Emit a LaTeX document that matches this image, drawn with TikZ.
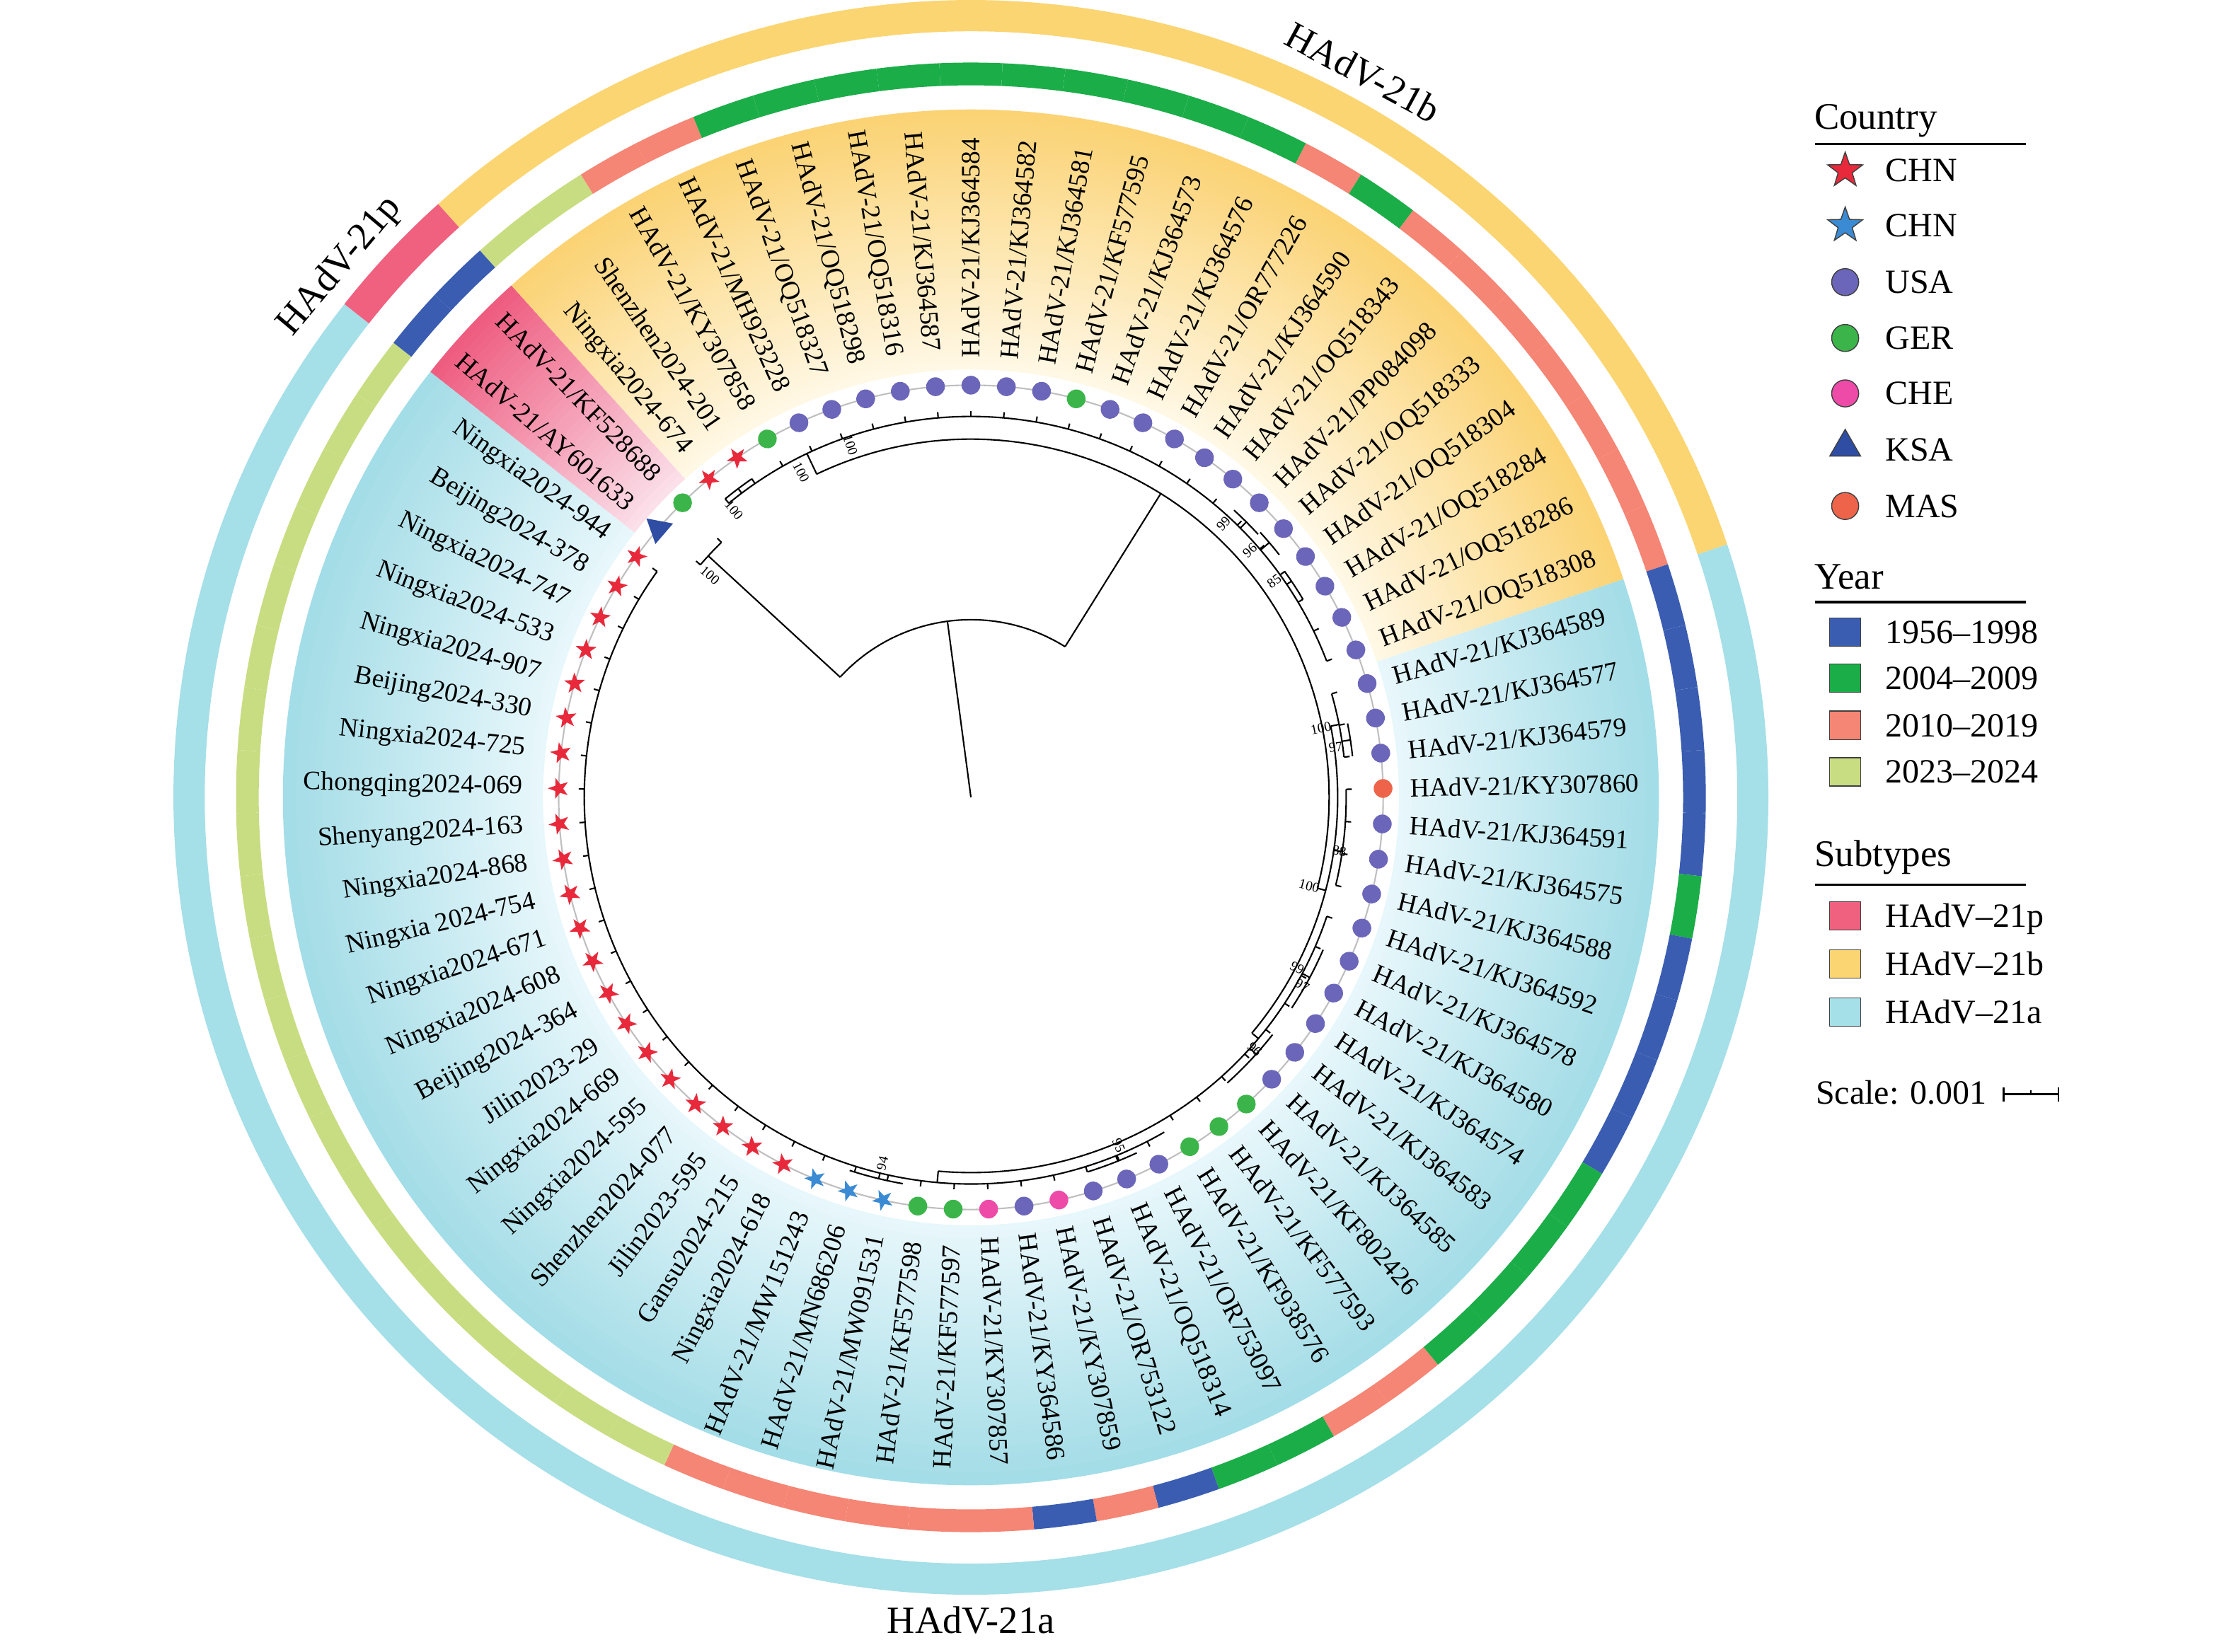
\documentclass[tikz,border=0pt]{standalone}
\usepackage{fontspec}
\setmainfont{Liberation Serif}
\usetikzlibrary{shapes.geometric}

\definecolor{chnRed}{HTML}{E8293B}
\definecolor{chnBlue}{HTML}{3A8BD3}
\definecolor{usaPurple}{HTML}{6B66B9}
\definecolor{gerGreen}{HTML}{3BB54A}
\definecolor{chePink}{HTML}{EE4BA9}
\definecolor{ksaBlue}{HTML}{2F4DA3}
\definecolor{masOrange}{HTML}{EE644A}
\definecolor{yrA}{HTML}{3A5DB1}
\definecolor{yrB}{HTML}{1BAD48}
\definecolor{yrC}{HTML}{F58574}
\definecolor{yrD}{HTML}{C8DD82}
\definecolor{stP}{HTML}{F0607F}
\definecolor{stB}{HTML}{FBD572}
\definecolor{stA}{HTML}{A5DFE8}
\definecolor{hlBin}{HTML}{FFF8E6}
\definecolor{hlBout}{HTML}{FBD272}
\definecolor{hlAin}{HTML}{E8F7FB}
\definecolor{hlAout}{HTML}{A2DCE6}
\definecolor{hlPin}{HTML}{FBE0EA}
\definecolor{hlPout}{HTML}{EE5A7E}

\tikzset{
  branch/.style={line width=0.6pt, black},
  tiplab/.style={font=\fontsize{10.6}{12}\selectfont, inner sep=0pt},
  bootlab/.style={font=\fontsize{5.5}{6}\selectfont, inner sep=0pt},
  cladelab/.style={font=\fontsize{15.4}{18}\selectfont, inner sep=0pt},
  dot/.style={circle, inner sep=0pt, minimum size=2.64mm},
  chnR/.style={star, star points=5, star point ratio=2.5, inner sep=0pt, minimum size=3.1mm, fill=chnRed},
  chnB/.style={star, star points=5, star point ratio=2.5, inner sep=0pt, minimum size=3.1mm, fill=chnBlue},
  usa/.style={dot, fill=usaPurple},
  ger/.style={dot, fill=gerGreen},
  che/.style={dot, fill=chePink},
  mas/.style={dot, fill=masOrange},
  ksa/.style={regular polygon, regular polygon sides=3, inner sep=0pt, minimum size=4.4mm, fill=ksaBlue},
  lgtitle/.style={font=\fontsize{15}{18}\selectfont, inner sep=0pt, anchor=base west},
  lgtext/.style={font=\fontsize{13.6}{16}\selectfont, inner sep=0pt, anchor=base west},
  lgrule/.style={line width=0.9pt},
  lgkey/.style={draw=black!75, line width=0.4pt},
  lgbox/.style={lgkey, rectangle, minimum width=4.4mm, minimum height=4mm, inner sep=0pt}
}

\newcommand{\hadv}{HAdV-21/}
% radius, from angle, to angle
\newcommand{\brarc}[3]{\draw[branch] (#2:#1) arc[start angle=#2, end angle=#3, radius=#1];}
% angle, inner radius, outer radius
\newcommand{\brline}[3]{\draw[branch] (#1:#2) -- (#1:#3);}
% inner r, outer r, from, to, colour
\newcommand{\band}[5]{\fill[#5] (#3:#1) arc[start angle=#3, end angle=#4, radius=#1] -- (#4:#2) arc[start angle=#4, end angle=#3, radius=#2] -- cycle;}
% clade highlight with radial fade: from, to, inner colour, outer colour
\newcommand{\hilite}[4]{%
  \foreach \j in {0,...,39}{%
    \pgfmathsetmacro\ra{301+\j*4.575}%
    \pgfmathsetmacro\rz{min(\ra+5.5,484)}%
    \pgfmathtruncatemacro\pc{100*(\j+0.5)/40}%
    \band{\ra}{\rz}{#1}{#2}{#4!\pc!#3}}}

\begin{document}
\begin{tikzpicture}[x=0.2mm, y=0.2mm]
\useasboundingbox (-683,-601) rectangle (885,561);

% clade highlights
\hilite{131.92}{18.49}{hlBin}{hlBout}
\hilite{18.49}{-218.22}{hlAin}{hlAout}
\hilite{141.78}{131.92}{hlPin}{hlPout}

% subtype ring
\band{539}{561}{131.92}{18.49}{stB}
\band{539}{561}{18.49}{-218.22}{stA}
\band{539}{561}{141.78}{131.92}{stP}

% tip circle
\draw[black!25, line width=0.6pt] (0,0) circle[radius=290];

% tree
\coordinate (root) at (0,0);
\coordinate (nA) at (97.6:125);
\coordinate (nP) at (137.4:251);
\coordinate (nB) at (58:252);
\coordinate (nX) at (115.5:268);
\coordinate (nY) at (-14.7:258);
\draw[branch] (root) -- (nA);
\brarc{125}{137.4}{58}
\draw[branch] (137.4:125) -- (nP);
\brarc{251}{139.32}{134.38}
\draw[branch] (58:125) -- (nB);
\brarc{252}{115.5}{-14.7}
\draw[branch] (115.5:252) -- (nX);
\brarc{268}{129.45}{20.96}
\brline{127}{268}{272}
\brarc{272}{129.45}{124.52}
\brline{45}{268}{274}
\brarc{274}{47.5}{42.5}
\brline{40.5}{268}{276}
\brarc{276}{42.5}{38.2}
\brline{34}{268}{272}
\brarc{272}{35.8}{30.8}
\draw[branch] (-14.7:252) -- (nY);
\brarc{258}{11.2}{-40}
\brline{11.2}{258}{264}
\brarc{264}{16.03}{6.16}
\brline{8.6}{264}{270}
\brarc{270}{11.10}{6.16}
\brline{-8.3}{258}{264}
\brarc{264}{1.23}{-13.56}
\brline{-40}{258}{264}
\brarc{264}{-18.49}{-95}
\brline{-28}{264}{270}
\brarc{270}{-23.4}{-33.3}
\brline{-42}{264}{270}
\brarc{270}{-38.2}{-48.1}
\brline{-95}{264}{272}
\brarc{272}{-60}{-215.75}
\brline{-68}{272}{276}
\brarc{276}{-65}{-72.7}
\brline{-103.6}{272}{276}
\brarc{276}{-100}{-108}

% tips: label / country / year
\foreach \lab/\cty/\yr [count=\n from 0] in {
  Ningxia2024-674/chnR/yrD,
  Shenzhen2024-201/chnR/yrD,
  \hadv KY307858/ger/yrC,
  \hadv MH923228/usa/yrC,
  \hadv OQ518327/usa/yrB,
  \hadv OQ518298/usa/yrB,
  \hadv OQ518316/usa/yrB,
  \hadv KJ364587/usa/yrB,
  \hadv KJ364584/usa/yrB,
  \hadv KJ364582/usa/yrB,
  \hadv KJ364581/usa/yrB,
  \hadv KF577595/ger/yrB,
  \hadv KJ364573/usa/yrB,
  \hadv KJ364576/usa/yrB,
  \hadv OR777226/usa/yrC,
  \hadv KJ364590/usa/yrB,
  \hadv OQ518343/usa/yrC,
  \hadv PP084098/usa/yrC,
  \hadv OQ518333/usa/yrC,
  \hadv OQ518304/usa/yrC,
  \hadv OQ518284/usa/yrC,
  \hadv OQ518286/usa/yrC,
  \hadv OQ518308/usa/yrC,
  \hadv KJ364589/usa/yrA,
  \hadv KJ364577/usa/yrA,
  \hadv KJ364579/usa/yrA,
  \hadv KY307860/mas/yrA,
  \hadv KJ364591/usa/yrA,
  \hadv KJ364575/usa/yrB,
  \hadv KJ364588/usa/yrA,
  \hadv KJ364592/usa/yrA,
  \hadv KJ364578/usa/yrA,
  \hadv KJ364580/usa/yrA,
  \hadv KJ364574/usa/yrB,
  \hadv KJ364583/usa/yrB,
  \hadv KJ364585/usa/yrB,
  \hadv KF802426/ger/yrB,
  \hadv KF577593/ger/yrC,
  \hadv KF938576/ger/yrC,
  \hadv OR753097/usa/yrB,
  \hadv OQ518314/usa/yrB,
  \hadv OR753122/usa/yrA,
  \hadv KY307859/che/yrC,
  \hadv KY364586/usa/yrA,
  \hadv KY307857/che/yrC,
  \hadv KF577597/ger/yrC,
  \hadv KF577598/ger/yrC,
  \hadv MW091531/chnB/yrC,
  \hadv MN686206/chnB/yrC,
  \hadv MW151243/chnB/yrC,
  Ningxia2024-618/chnR/yrD,
  Gansu2024-215/chnR/yrD,
  Jilin2023-595/chnR/yrD,
  Shenzhen2024-077/chnR/yrD,
  Ningxia2024-595/chnR/yrD,
  Ningxia2024-669/chnR/yrD,
  Jilin2023-29/chnR/yrD,
  Beijing2024-364/chnR/yrD,
  Ningxia2024-608/chnR/yrD,
  Ningxia2024-671/chnR/yrD,
  Ningxia 2024-754/chnR/yrD,
  Ningxia2024-868/chnR/yrD,
  Shenyang2024-163/chnR/yrD,
  Chongqing2024-069/chnR/yrD,
  Ningxia2024-725/chnR/yrD,
  Beijing2024-330/chnR/yrD,
  Ningxia2024-907/chnR/yrD,
  Ningxia2024-533/chnR/yrD,
  Ningxia2024-747/chnR/yrD,
  Beijing2024-378/chnR/yrD,
  Ningxia2024-944/chnR/yrD,
  \hadv AY601633/ksa/yrA,
  \hadv KF528688/ger/yrA%
}{
  \pgfmathsetmacro\ang{90-(\n-8)*4.93151}
  \pgfmathsetmacro\aL{\ang+2.4658}
  \pgfmathsetmacro\aR{\ang-2.4658}
  \pgfmathtruncatemacro\flip{(\ang>90.1||\ang<-90.1)?1:0}
  \pgfmathsetmacro\rb{\n<23 ? 268 : (\n<39 ? 264 : (\n<71 ? 272 : 251))}
  \pgfmathsetmacro\re{\rb+4}
  % year ring
  \band{501}{517}{\aL}{\aR}{\yr}
  % tip branch
  \draw[branch] (\ang:\rb) -- (\ang:\re);
  % country symbol
  \node[\cty, rotate=\ang-90] (tip\n) at (\ang:290) {};
  % tip label
  \ifnum\flip=1
    \node[tiplab, anchor=east, rotate=\ang+180] (lab\n) at (\ang:315) {\lab};
  \else
    \node[tiplab, anchor=west, rotate=\ang] (lab\n) at (\ang:309) {\lab};
  \fi
}

% bootstrap values
\foreach \a/\r/\v [count=\k] in {139.6/241/100, 129.5/262/100, 117.6/258/100,
    108.9/262/100, 47.3/262/99, 41.5/262/96, 35.5/262/85, 11.2/251/100,
    7.8/259/97, -8.3/262/88, -14.7/246/100, -27.6/259/99, -29.6/268/97,
    -41.6/267/96, -67/266/95, -103.6/265/94}{
  \pgfmathsetmacro\rt{(\a>90||\a<-90) ? \a+180 : \a}
  \node[bootlab, rotate=\rt] (bs\k) at (\a:\r) {\v};
}

% clade labels
\node[cladelab, rotate=-28.4] (clB) at (61.6:580) {HAdV-21b};
\node[cladelab, rotate=49.9] (clP) at (139.9:580) {HAdV-21p};
\node[cladelab] (clA) at (-90:579) {HAdV-21a};

% legend: country
\node[lgtitle] (ttlCountry) at (593,469.9) {Country};
\draw[lgrule] (594,459.5) -- (742,459.5);
\node[chnR, lgkey, minimum size=5.2mm] (keyC1) at (615,441) {};
\node[chnB, lgkey, minimum size=5.2mm] (keyC2) at (615,402.4) {};
\node[usa, lgkey, minimum size=3.8mm] (keyC3) at (615,362.5) {};
\node[ger, lgkey, minimum size=3.8mm] (keyC4) at (615,323.2) {};
\node[che, lgkey, minimum size=3.8mm] (keyC5) at (615,284.2) {};
\node[ksa, lgkey, minimum size=5mm] (keyC6) at (615,246.4) {};
\node[mas, lgkey, minimum size=3.8mm] (keyC7) at (615,205) {};
\foreach \y/\txt [count=\k] in {441/CHN, 402.4/CHN, 362.5/USA, 323.2/GER,
    284.2/CHE, 244.4/KSA, 205/MAS}{
  \node[lgtext] (txtC\k) at (643,\y-7.9) {\txt};
}

% legend: year
\node[lgtitle] (ttlYear) at (593,146.5) {Year};
\draw[lgrule] (594,137.4) -- (742,137.4);
\foreach \y/\col/\txt [count=\k] in {116.3/yrA/1956–1998, 83.8/yrB/2004–2009,
    50.7/yrC/2010–2019, 17.9/yrD/2023–2024}{
  \node[lgbox, fill=\col] (keyY\k) at (615,\y) {};
  \node[lgtext] (txtY\k) at (643,\y-7.9) {\txt};
}

% legend: subtypes
\node[lgtitle] (ttlSub) at (593,-48.5) {Subtypes};
\draw[lgrule] (594,-61.5) -- (742,-61.5);
\foreach \y/\col/\txt [count=\k] in {-83.4/stP/HAdV–21p, -117.2/stB/HAdV–21b,
    -151/stA/HAdV–21a}{
  \node[lgbox, fill=\col] (keyS\k) at (615,\y) {};
  \node[lgtext] (txtS\k) at (643,\y-7.9) {\txt};
}

% scale
\node[lgtext] (txtScale) at (594,-215.7) {Scale: 0.001};
\coordinate (scL) at (726.4,-209);
\coordinate (scR) at (765,-209);
\draw[line width=0.8pt] (scL) -- (scR);
\draw[line width=0.8pt] ([yshift=-1mm]scL) -- ([yshift=1mm]scL);
\draw[line width=0.8pt] ([yshift=-1mm]scR) -- ([yshift=1mm]scR);
\draw[line width=0.6pt] (745.8,-209) -- (745.8,-206);
\end{tikzpicture}
\end{document}
